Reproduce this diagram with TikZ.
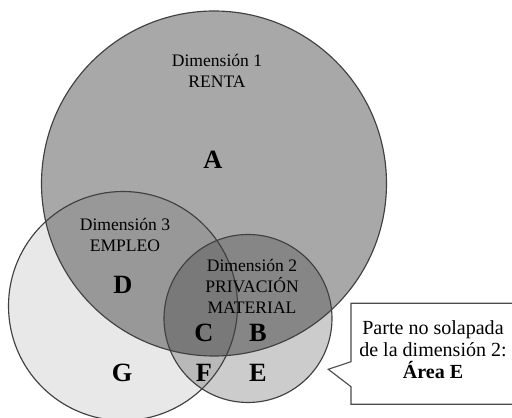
\documentclass[tikz,border=0pt]{standalone}
\usepackage{fontspec}
\setmainfont{Liberation Serif}
\begin{document}
\begin{tikzpicture}[x=0.02cm,y=-0.02cm,
thin,set/.style={draw=black!75,line width=0.65pt},
dim label/.style={align=center,inner sep=0pt,font=\fontsize{10}{12}\selectfont},
area/.style={inner sep=0pt,font=\fontsize{15}{18}\selectfont\bfseries}]
\useasboundingbox (0,0) rectangle (512,418);
\fill[white] (0,0) rectangle (512,418);
\coordinate (c1) at (214,183.5);
\coordinate (c2) at (248,318.5);
\coordinate (c3) at (123,306);

\fill[black,fill opacity=.34] (c1) circle (172.5);
\fill[black,fill opacity=.09] (c3) circle (114.5);
\fill[black,fill opacity=.2] (c2) circle (84);
\draw[set] (c1) circle (172.5);
\draw[set] (c3) circle (114.5);
\draw[set] (c2) circle (84);

\node[dim label] (d1) at (217,70.5) {Dimensión 1\\RENTA};
\node[dim label] (d3) at (125,235) {Dimensión 3\\EMPLEO};
\node[dim label] (d2) at (252,286) {Dimensión 2\\PRIVACIÓN\\MATERIAL};

\node[area] (A) at (213,160) {A};
\node[area] (D) at (123,285) {D};
\node[area] (C) at (204,333) {C};
\node[area] (B) at (258,333) {B};
\node[area] (G) at (122,373) {G};
\node[area] (F) at (204,373) {F};
\node[area] (E) at (258,373) {E};

\filldraw[fill=white,draw=black!70,line width=0.65pt]
  (515,303.3) -- (351,303.3) -- (351,361.7) -- (328.3,369.3)
  -- (351,386.7) -- (351,404.3) -- (515,404.3);
\node[align=center,inner sep=0pt,font=\fontsize{11.4}{12.6}\selectfont] (note) at (433,350)
  {Parte no solapada\\de la dimensión 2:\\\textbf{Área E}};
\end{tikzpicture}
\end{document}
